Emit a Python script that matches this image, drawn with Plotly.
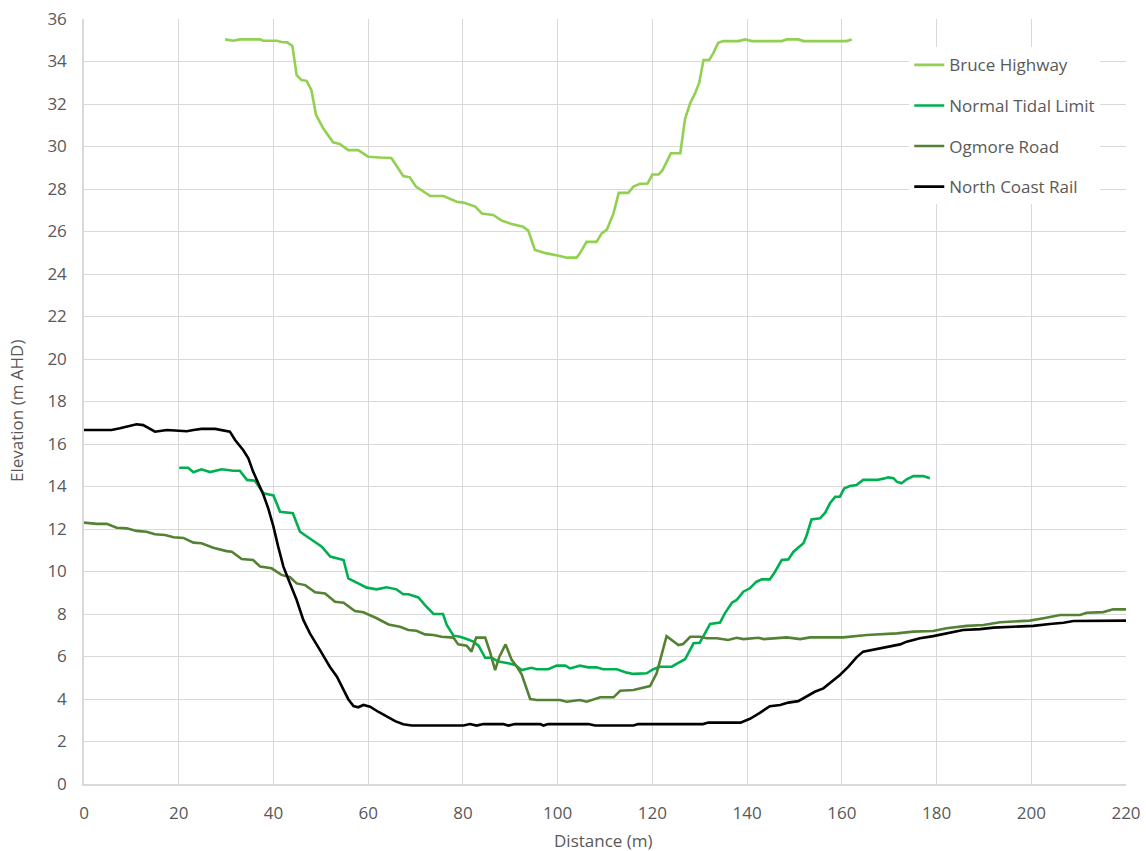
import plotly.graph_objects as go

# ---------------- data ----------------
bruce_x = [29.8, 31.5, 32.9, 37.2, 37.8, 40.7, 41.7, 42.9, 44.0, 44.9, 45.9, 47.0, 48.0, 49.0, 50.5,
           52.6, 54.0, 55.8, 57.9, 60.0, 62.5, 64.9, 67.4, 68.8, 70.1, 73.1, 75.9, 78.7, 80.1, 82.6,
           84.0, 86.4, 88.2, 90.3, 92.7, 93.8, 95.2, 97.7, 100.5, 101.9, 104.0, 104.7, 106.1, 108.2,
           109.3, 110.4, 111.8, 112.9, 114.9, 116.0, 117.4, 119.0, 120.0, 121.3, 122.1, 123.9, 125.9,
           126.9, 128.0, 129.0, 129.9, 130.8, 132.0, 132.9, 133.9, 135.0, 138.2, 139.6, 141.0, 147.3,
           148.4, 150.8, 151.9, 161.0, 162.1]
bruce_y = [35.04, 34.98, 35.04, 35.04, 34.98, 34.98, 34.92, 34.90, 34.73, 33.36, 33.13, 33.09, 32.66,
           31.48, 30.86, 30.20, 30.12, 29.83, 29.83, 29.52, 29.48, 29.46, 28.61, 28.55, 28.11, 27.67,
           27.67, 27.40, 27.36, 27.17, 26.85, 26.78, 26.51, 26.35, 26.23, 26.04, 25.13, 24.97, 24.85,
           24.77, 24.77, 24.97, 25.51, 25.51, 25.91, 26.09, 26.85, 27.82, 27.82, 28.11, 28.24, 28.26,
           28.68, 28.68, 28.87, 29.68, 29.68, 31.30, 32.05, 32.50, 33.00, 34.07, 34.07, 34.41, 34.88,
           34.96, 34.96, 35.04, 34.96, 34.96, 35.04, 35.04, 34.96, 34.96, 35.04]

tidal_x = [20.1, 22.0, 23.1, 24.8, 26.6, 29.1, 31.5, 32.9, 34.4, 36.1, 37.9, 40.0, 41.4, 44.1, 45.6,
           48.1, 50.2, 52.0, 54.8, 55.8, 57.6, 59.7, 61.8, 63.9, 66.0, 67.4, 68.5, 70.6, 72.0, 73.8,
           75.8, 76.6, 78.0, 79.4, 80.8, 82.2, 83.3, 84.7, 86.1, 87.5, 89.6, 91.0, 92.4, 94.5, 95.6,
           98.0, 99.8, 101.6, 102.6, 104.7, 106.5, 108.2, 109.6, 112.5, 114.6, 116.0, 118.8, 120.2,
           121.6, 124.1, 125.1, 126.9, 128.7, 130.0, 131.1, 132.2, 134.3, 135.3, 136.8, 137.8, 139.2,
           140.6, 142.0, 143.1, 144.8, 145.9, 147.3, 148.7, 149.8, 151.2, 151.9, 152.6, 153.6, 155.4,
           156.5, 157.5, 158.6, 159.6, 160.5, 161.7, 163.1, 164.5, 167.4, 168.8, 169.8, 170.9, 171.6,
           172.6, 173.7, 175.1, 177.2, 178.6]
tidal_y = [14.88, 14.88, 14.67, 14.81, 14.68, 14.81, 14.74, 14.74, 14.31, 14.27, 13.68, 13.58, 12.81,
           12.74, 11.87, 11.48, 11.17, 10.70, 10.54, 9.68, 9.47, 9.24, 9.16, 9.26, 9.16, 8.93, 8.93,
           8.78, 8.42, 8.00, 8.00, 7.48, 6.98, 6.93, 6.82, 6.70, 6.51, 5.94, 5.94, 5.76, 5.68, 5.60,
           5.36, 5.47, 5.40, 5.40, 5.57, 5.57, 5.44, 5.57, 5.49, 5.49, 5.40, 5.40, 5.24, 5.18, 5.21,
           5.40, 5.52, 5.52, 5.65, 5.87, 6.62, 6.65, 7.09, 7.53, 7.60, 8.03, 8.53, 8.66, 9.05, 9.21,
           9.52, 9.63, 9.63, 9.99, 10.54, 10.57, 10.93, 11.20, 11.33, 11.72, 12.45, 12.50, 12.77,
           13.21, 13.52, 13.52, 13.91, 14.02, 14.07, 14.31, 14.31, 14.37, 14.43, 14.39, 14.23, 14.15,
           14.34, 14.49, 14.49, 14.39]

ogmore_x = [0.0, 2.7, 4.8, 6.9, 9.0, 11.1, 13.2, 15.0, 17.1, 18.9, 21.0, 23.1, 24.8, 27.3, 30.1, 31.2,
            33.3, 35.7, 37.2, 39.6, 41.7, 43.5, 44.9, 46.7, 48.8, 50.9, 53.0, 54.8, 57.2, 59.0, 61.8,
            64.3, 66.7, 68.5, 70.2, 72.0, 73.8, 75.5, 78.0, 79.0, 80.8, 81.8, 82.8, 84.7, 85.7, 86.8,
            87.7, 89.0, 90.3, 91.4, 92.4, 94.2, 95.6, 100.5, 101.9, 104.7, 106.1, 109.0, 111.8, 113.2,
            116.0, 118.1, 119.5, 120.9, 122.0, 123.0, 125.5, 126.5, 128.0, 130.1, 131.5, 133.6, 136.0,
            137.8, 139.2, 142.4, 143.5, 147.0, 148.4, 151.2, 153.3, 160.3, 165.3, 171.6, 175.1, 179.3,
            182.1, 186.4, 189.9, 193.4, 199.7, 202.6, 206.1, 210.3, 211.7, 215.2, 217.3, 220.0]
ogmore_y = [12.30, 12.24, 12.24, 12.06, 12.03, 11.91, 11.87, 11.75, 11.72, 11.61, 11.58, 11.36, 11.33,
            11.12, 10.96, 10.93, 10.59, 10.54, 10.23, 10.15, 9.84, 9.73, 9.44, 9.36, 9.02, 8.97, 8.58,
            8.53, 8.14, 8.08, 7.80, 7.51, 7.40, 7.25, 7.21, 7.04, 7.01, 6.93, 6.89, 6.57, 6.51, 6.23,
            6.89, 6.89, 6.23, 5.36, 5.99, 6.57, 5.84, 5.52, 5.16, 4.00, 3.95, 3.95, 3.87, 3.95, 3.87,
            4.08, 4.08, 4.39, 4.42, 4.53, 4.61, 5.21, 6.15, 6.96, 6.54, 6.59, 6.93, 6.93, 6.86, 6.86,
            6.78, 6.88, 6.82, 6.88, 6.82, 6.86, 6.90, 6.82, 6.90, 6.90, 7.01, 7.09, 7.17, 7.20, 7.33,
            7.44, 7.48, 7.61, 7.69, 7.80, 7.95, 7.95, 8.06, 8.09, 8.22, 8.22]

rail_x = [0.0, 5.8, 7.6, 9.0, 11.1, 12.5, 13.6, 15.0, 17.5, 18.9, 20.3, 21.7, 23.1, 24.8, 27.7, 29.4,
          30.8, 31.9, 33.6, 34.7, 35.7, 36.8, 37.9, 38.9, 40.0, 41.0, 42.1, 43.5, 44.9, 46.3, 47.7,
          49.8, 51.9, 53.4, 54.8, 55.8, 56.9, 57.9, 59.0, 60.4, 62.1, 63.9, 65.7, 67.4, 69.2, 80.1,
          81.5, 82.9, 84.3, 88.5, 89.6, 91.0, 96.3, 97.0, 98.0, 106.5, 107.9, 116.0, 117.0, 130.7,
          131.8, 138.6, 140.6, 142.7, 144.8, 147.0, 148.7, 150.8, 152.6, 154.3, 156.1, 157.5, 159.6,
          161.4, 163.1, 164.5, 166.3, 168.4, 170.5, 172.3, 173.7, 176.5, 179.3, 182.1, 185.6, 189.2,
          192.0, 196.2, 200.4, 203.9, 206.8, 208.9, 213.8, 220.0]
rail_y = [16.66, 16.66, 16.74, 16.81, 16.93, 16.89, 16.77, 16.58, 16.66, 16.63, 16.60, 16.60, 16.66,
          16.71, 16.71, 16.63, 16.58, 16.19, 15.72, 15.33, 14.70, 14.15, 13.60, 12.97, 12.11, 11.17,
          10.23, 9.44, 8.66, 7.72, 7.09, 6.31, 5.52, 5.05, 4.42, 3.99, 3.67, 3.61, 3.72, 3.64, 3.40,
          3.17, 2.96, 2.81, 2.75, 2.75, 2.82, 2.75, 2.82, 2.82, 2.75, 2.82, 2.82, 2.75, 2.82, 2.82,
          2.75, 2.75, 2.82, 2.82, 2.89, 2.89, 3.07, 3.35, 3.66, 3.72, 3.83, 3.90, 4.14, 4.34, 4.50,
          4.74, 5.13, 5.52, 5.96, 6.23, 6.31, 6.42, 6.51, 6.57, 6.70, 6.86, 6.96, 7.09, 7.25, 7.29,
          7.36, 7.40, 7.44, 7.53, 7.59, 7.67, 7.69, 7.69]

series_names = ["Bruce Highway", "Normal Tidal Limit", "Ogmore Road", "North Coast Rail"]
series_colors = ["#92D050", "#00B050", "#548235", "#000000"]
x_title = "Distance (m)"
y_title = "Elevation (m AHD)"

# ---------------- figure ----------------
FONT = "Open Sans"
TXT = "#595959"
GRID = "#D9D9D9"

fig = go.Figure()
for i, (name, xs, ys, col) in enumerate(zip(
        series_names,
        [bruce_x, tidal_x, ogmore_x, rail_x],
        [bruce_y, tidal_y, ogmore_y, rail_y],
        series_colors)):
    fig.add_trace(go.Scatter(
        x=xs, y=ys, mode="lines", name=name, legendgroup=f"g{i}",
        line=dict(color=col, width=2.6), hoverinfo="x+y+name"))

fig.update_layout(
    width=1146, height=851,
    margin=dict(l=84, r=20, t=19, b=67, autoexpand=False),
    paper_bgcolor="white", plot_bgcolor="white",
    font=dict(family=FONT, size=17, color=TXT),
    showlegend=True,
    legend=dict(
        x=0.792, y=0.963, xanchor="left", yanchor="top",
        bgcolor="white", borderwidth=0,
        font=dict(family=FONT, size=17, color=TXT),
        tracegroupgap=15.5, itemwidth=30,
    ),
    xaxis=dict(
        range=[0, 220], dtick=20, tick0=0,
        showgrid=True, gridcolor=GRID, gridwidth=1,
        showline=True, linecolor=GRID, linewidth=1.5,
        zeroline=False, ticks="", ticklabelstandoff=13,
        ticklabeloverflow="allow",
        tickfont=dict(family=FONT, size=17, color=TXT),
        automargin=False,
    ),
    yaxis=dict(
        range=[0, 36], dtick=2, tick0=0,
        showgrid=True, gridcolor=GRID, gridwidth=1,
        showline=True, linecolor=GRID, linewidth=1.5,
        zeroline=False, ticks="", ticklabelstandoff=12,
        ticklabeloverflow="allow",
        tickfont=dict(family=FONT, size=17, color=TXT),
        automargin=False,
    ),
    annotations=[
        dict(text=x_title, xref="paper", yref="paper", x=0.499, y=0,
             xanchor="center", yanchor="middle", yshift=-56, showarrow=False,
             font=dict(family=FONT, size=17, color=TXT)),
        dict(text=y_title, xref="paper", yref="paper", x=0, y=0.4876,
             xanchor="center", yanchor="middle", xshift=-67, textangle=-90,
             showarrow=False, font=dict(family=FONT, size=17, color=TXT)),
    ],
)

# remove the page's default body margin so the figure fills the window exactly
fig.write_html("out.html",
               config={"displayModeBar": False},
               post_script="document.body.style.margin='0';"
                           "document.body.style.overflow='hidden';")
